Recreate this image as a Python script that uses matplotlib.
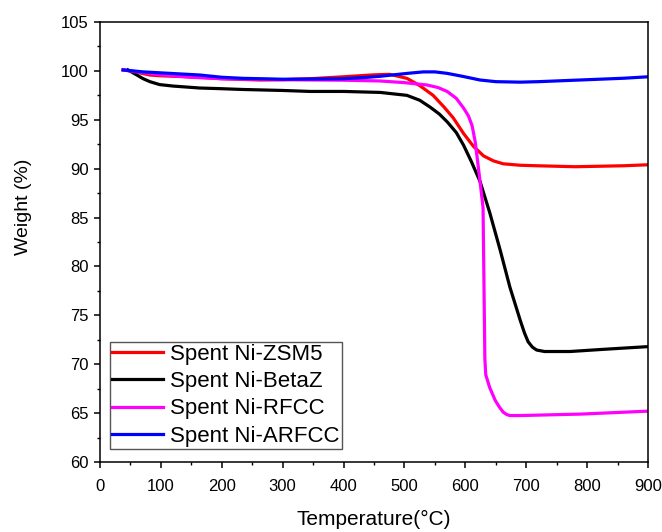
import matplotlib.pyplot as plt
from matplotlib.ticker import MultipleLocator

plt.rcParams['font.family'] = ['Liberation Sans', 'DejaVu Sans']

# TGA data
zsm5_t = [38, 50, 82, 100, 164, 200, 263, 300, 345, 400, 450, 476, 504, 525,
          547, 565, 580, 597, 613, 630, 646, 662, 690, 717, 780, 821, 860, 900]
zsm5_w = [100.1, 100.0, 99.58, 99.5, 99.35, 99.2, 99.07, 99.1, 99.2, 99.4,
          99.6, 99.65, 99.24, 98.5, 97.5, 96.3, 95.2, 93.6, 92.3, 91.3, 90.8,
          90.5, 90.35, 90.3, 90.2, 90.25, 90.3, 90.4]

betaz_t = [46, 60, 71, 82, 98, 120, 164, 200, 235, 300, 345, 400, 460, 504,
           525, 542, 557, 570, 585, 597, 610, 624, 640, 657, 673, 690, 697,
           703, 710, 717, 730, 772, 821, 860, 900]
betaz_w = [100.1, 99.6, 99.2, 98.9, 98.6, 98.45, 98.25, 98.18, 98.1, 98.0,
           97.9, 97.9, 97.8, 97.5, 97.0, 96.3, 95.6, 94.8, 93.7, 92.4, 90.7,
           88.7, 85.5, 81.7, 77.9, 74.5, 73.2, 72.3, 71.75, 71.45, 71.3, 71.3,
           71.5, 71.65, 71.8]

rfcc_t = [38, 60, 100, 150, 200, 300, 400, 460, 500, 537, 555, 570, 585, 597,
          605, 611, 616, 620, 625, 629, 632, 633.5, 640, 649, 656, 662, 668,
          673, 690, 790, 900]
rfcc_w = [100.1, 99.9, 99.6, 99.35, 99.2, 99.1, 99.05, 98.97, 98.8, 98.56,
          98.3, 97.9, 97.2, 96.2, 95.4, 94.4, 92.8, 90.8, 88.2, 86.0, 70.5,
          68.9, 67.6, 66.3, 65.6, 65.1, 64.85, 64.75, 64.75, 64.9, 65.2]

arfcc_t = [38, 71, 100, 164, 200, 235, 300, 345, 400, 440, 460, 505, 531, 550,
           570, 595, 624, 650, 690, 720, 760, 800, 860, 900]
arfcc_w = [100.1, 99.9, 99.8, 99.58, 99.35, 99.24, 99.15, 99.17, 99.2, 99.35,
           99.45, 99.75, 99.9, 99.9, 99.75, 99.45, 99.07, 98.9, 98.85, 98.9,
           99.0, 99.1, 99.25, 99.4]

fig = plt.figure(figsize=(6.62, 5.32), dpi=100)
ax = fig.add_axes([0.151, 0.1316, 0.828, 0.827])

lw = 2.3
ax.plot(zsm5_t, zsm5_w, color='#ff0000', lw=lw, label='Spent Ni-ZSM5')
ax.plot(betaz_t, betaz_w, color='black', lw=lw, label='Spent Ni-BetaZ')
ax.plot(rfcc_t, rfcc_w, color='#ff00ff', lw=lw, label='Spent Ni-RFCC')
ax.plot(arfcc_t, arfcc_w, color='#0000ff', lw=lw, label='Spent Ni-ARFCC')

ax.set_xlim(0, 900)
ax.set_ylim(60, 105)
ax.xaxis.set_major_locator(MultipleLocator(100))
ax.xaxis.set_minor_locator(MultipleLocator(50))
ax.yaxis.set_major_locator(MultipleLocator(5))
ax.yaxis.set_minor_locator(MultipleLocator(2.5))
ax.tick_params(which='major', direction='out', length=4.5, width=1.1,
               labelsize=12)
ax.tick_params(axis='x', which='major', pad=8)
ax.tick_params(which='minor', direction='out', length=2.5, width=1.0)
for s in ax.spines.values():
    s.set_linewidth(1.1)

ax.set_xlabel('Temperature(°C)', fontsize=15, labelpad=11)
ax.set_ylabel('Weight (%)', fontsize=14)
ax.yaxis.set_label_coords(-0.124, 0.58)

leg = ax.legend(loc='lower left', bbox_to_anchor=(0.018, 0.03),
                borderaxespad=0, fontsize=16, handlelength=2.3,
                handletextpad=0.3, labelspacing=0.28, borderpad=0.1,
                fancybox=False, framealpha=1)
leg.get_frame().set_edgecolor('#555555')
leg.get_frame().set_linewidth(1.0)

fig.savefig('out.png', dpi=100)
